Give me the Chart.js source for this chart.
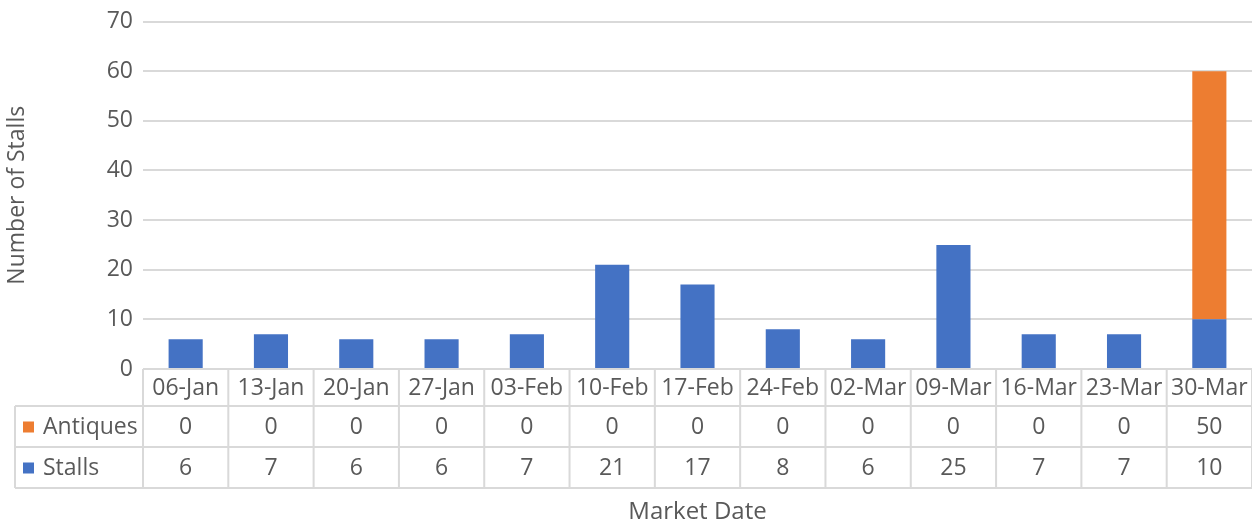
<!DOCTYPE html>
<html>
<head>
<meta charset="utf-8">
<script src="https://cdn.jsdelivr.net/npm/chart.js@4/dist/chart.umd.min.js"></script>
<style>
  html, body { margin: 0; padding: 0; background: #fff; }
  #wrap { width: 1252px; height: 525px; position: relative; }
</style>
</head>
<body>
<div id="wrap"><canvas id="stallsChart"></canvas></div>
<script>
const marketDates = ['06-Jan', '13-Jan', '20-Jan', '27-Jan', '03-Feb', '10-Feb', '17-Feb', '24-Feb', '02-Mar', '09-Mar', '16-Mar', '23-Mar', '30-Mar'];
const stalls = [6, 7, 6, 6, 7, 21, 17, 8, 6, 25, 7, 7, 10];
const antiques = [0, 0, 0, 0, 0, 0, 0, 0, 0, 0, 0, 0, 50];
const yTicks = [0, 10, 20, 30, 40, 50, 60, 70];

const FONT = "'Open Sans', sans-serif";
const TEXT = '#595959';
const LINE = '#d9d9d9';

// Excel-style data table under the plot, positioned from the x scale
const dataTable = {
    id: 'dataTable',
    afterDraw(chart) {
        const ctx = chart.ctx;
        const x = chart.scales.x;
        const area = chart.chartArea;
        const top = area.bottom;
        const rowH = [37, 41, 41];
        const y1 = top + rowH[0], y2 = y1 + rowH[1], y3 = y2 + rowH[2];
        const half = (x.getPixelForValue(1) - x.getPixelForValue(0)) / 2;
        const keyLeft = 15;

        ctx.save();
        ctx.strokeStyle = LINE;
        ctx.lineWidth = 2;
        ctx.beginPath();
        // horizontal lines
        ctx.moveTo(area.left, top); ctx.lineTo(area.right, top);
        ctx.moveTo(keyLeft, y1); ctx.lineTo(area.right, y1);
        ctx.moveTo(keyLeft, y2); ctx.lineTo(area.right, y2);
        ctx.moveTo(keyLeft, y3); ctx.lineTo(area.right, y3);
        // vertical lines
        ctx.moveTo(keyLeft, y1); ctx.lineTo(keyLeft, y3);
        marketDates.forEach((d, i) => {
            const xl = x.getPixelForValue(i) - half;
            ctx.moveTo(xl, top); ctx.lineTo(xl, y3);
        });
        ctx.moveTo(area.right, top); ctx.lineTo(area.right, y3);
        ctx.stroke();

        ctx.fillStyle = TEXT;
        ctx.font = '23px ' + FONT;
        ctx.textAlign = 'center';
        ctx.textBaseline = 'middle';
        marketDates.forEach((d, i) => {
            const cx = x.getPixelForValue(i);
            ctx.fillText(d, cx, top + rowH[0] / 2 + 1);
            ctx.fillText(String(antiques[i]), cx, y1 + rowH[1] / 2 + 1);
            ctx.fillText(String(stalls[i]), cx, y2 + rowH[2] / 2 + 1);
        });

        // series keys
        const series = [
            { label: 'Antiques', color: chart.data.datasets[1].backgroundColor, y: y1 + rowH[1] / 2 },
            { label: 'Stalls', color: chart.data.datasets[0].backgroundColor, y: y2 + rowH[2] / 2 }
        ];
        series.forEach(s => {
            ctx.fillStyle = s.color;
            ctx.fillRect(keyLeft + 8, s.y - 5, 11, 11);
            ctx.fillStyle = TEXT;
            ctx.textAlign = 'left';
            ctx.fillText(s.label, keyLeft + 28, s.y + 1);
        });

        // x axis title
        ctx.textAlign = 'center';
        ctx.font = '24px ' + FONT;
        ctx.fillText('Market Date', (area.left + area.right) / 2, 512);
        ctx.restore();
    }
};

new Chart(document.getElementById('stallsChart'), {
    type: 'bar',
    data: {
        labels: marketDates,
        datasets: [
            { label: 'Stalls', data: stalls, backgroundColor: '#4472c4' },
            { label: 'Antiques', data: antiques, backgroundColor: '#ed7d31' }
        ]
    },
    options: {
        responsive: true,
        maintainAspectRatio: false,
        animation: false,
        datasets: { bar: { barPercentage: 0.4, categoryPercentage: 1 } },
        layout: { padding: { top: 19, right: 0, bottom: 156, left: 0 } },
        plugins: {
            legend: { display: false },
            tooltip: { enabled: false }
        },
        scales: {
            x: {
                stacked: true,
                display: false
            },
            y: {
                stacked: true,
                min: 0,
                max: 70,
                afterFit: (scale) => { scale.width = 143; },
                afterBuildTicks: (scale) => { scale.ticks = yTicks.map(v => ({ value: v })); },
                border: { display: false },
                grid: { color: LINE, lineWidth: 2, drawTicks: false },
                ticks: {
                    color: TEXT,
                    padding: 10,
                    font: { family: FONT, size: 23, lineHeight: 1 }
                },
                title: {
                    display: true,
                    text: 'Number of Stalls',
                    color: TEXT,
                    padding: { top: 4, bottom: 0 },
                    font: { family: FONT, size: 23 }
                }
            }
        }
    },
    plugins: [dataTable]
});
</script>
</body>
</html>
